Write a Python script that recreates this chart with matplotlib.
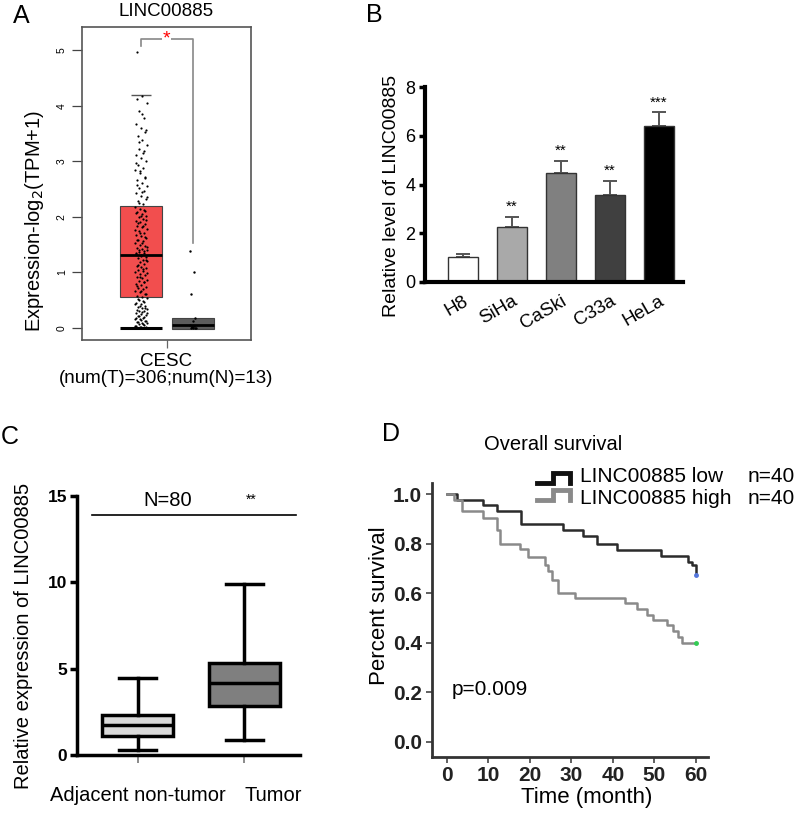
import matplotlib
matplotlib.use('Agg')
import matplotlib.pyplot as plt
from matplotlib.lines import Line2D
import numpy as np

plt.rcParams['font.family'] = ['Liberation Sans', 'DejaVu Sans']

W, H = 797, 816
fig = plt.figure(figsize=(W / 100, H / 100), dpi=100)


def add_ax(left, top, right, bottom):
    return fig.add_axes([left / W, 1 - bottom / H, (right - left) / W, (bottom - top) / H])


def ftext(px, py, s, **kw):
    fig.text(px / W, 1 - py / H, s, **kw)


# ---------------- data ----------------
# Panel A
a_title = 'LINC00885'
a_category = ['CESC\n(num(T)=306;num(N)=13)']
a_tumor_stats = dict(q1=0.55, med=1.32, q3=2.20, whislo=0.0, whishi=4.20)
a_normal_stats = dict(q1=-0.02, med=0.05, q3=0.18, whislo=0.0, whishi=0.18)
a_tumor_points = [
    0.00, 0.00, 0.00, 0.01, 0.02, 0.03, 0.05, 0.06, 0.08, 0.09, 0.11, 0.13, 0.15, 0.16, 0.18,
    0.21, 0.23, 0.25, 0.27, 0.30, 0.31, 0.33, 0.35, 0.37, 0.40, 0.42, 0.45, 0.47, 0.50, 0.53,
    0.56, 0.58, 0.61, 0.64, 0.66, 0.69, 0.72, 0.74, 0.77, 0.79, 0.82, 0.85, 0.87, 0.90, 0.92,
    0.95, 0.97, 1.00, 1.02, 1.05, 1.07, 1.10, 1.12, 1.15, 1.18, 1.20, 1.23, 1.25, 1.28, 1.31,
    1.33, 1.35, 1.37, 1.40, 1.42, 1.44, 1.47, 1.50, 1.53, 1.56, 1.59, 1.62, 1.65, 1.68, 1.71,
    1.74, 1.78, 1.81, 1.84, 1.87, 1.90, 1.93, 1.96, 1.99, 2.02, 2.05, 2.08, 2.11, 2.14, 2.18,
    2.23, 2.28, 2.32, 2.37, 2.42, 2.47, 2.52, 2.56, 2.61, 2.66, 2.72, 2.79, 2.84, 2.88, 2.94,
    3.00, 3.06, 3.12, 3.18, 3.23, 3.30, 3.38, 3.45, 3.52, 3.60, 3.68, 3.78, 3.90, 4.05, 4.18, 4.97,
    0.00, 0.01, 0.04, 0.07, 0.10, 0.12, 0.14, 0.17, 0.19, 0.22, 0.26, 0.29, 0.32, 0.36, 0.39,
    0.43, 0.48, 0.52, 0.60, 0.67, 0.76, 0.83, 0.91, 0.99, 1.06, 1.14, 1.22, 1.29, 1.34, 1.38,
    1.41, 1.46, 1.52, 1.58, 1.64, 1.70, 1.77, 1.83, 1.89, 1.95, 2.01, 2.07, 2.13, 2.25, 2.35,
    2.45, 2.58, 2.70, 2.82, 2.97, 3.15, 3.35, 3.56, 3.85, 4.12]
a_normal_points = [1.38, 1.01, 0.60, 0.17, 0.13, 0.05, 0.03, 0.02, 0.0, 0.0, 0.0, 0.0, 0.01]
a_sig = '*'

# Panel B
b_cells = ['H8', 'SiHa', 'CaSki', 'C33a', 'HeLa']
b_values = [1.0, 2.25, 4.48, 3.58, 6.42]
b_errors = [0.15, 0.42, 0.50, 0.57, 0.55]
b_sig = ['', '**', '**', '**', '***']
b_colors = ['white', '#A9A9A9', '#808080', '#404040', 'black']

# Panel C
c_groups = ['Adjacent non-tumor', 'Tumor']
c_stats = [dict(whislo=0.27, q1=1.08, med=1.75, q3=2.32, whishi=4.45),
           dict(whislo=0.87, q1=2.83, med=4.15, q3=5.35, whishi=9.87)]
c_colors = ['#DADADA', '#7F7F7F']
c_n_label = 'N=80'
c_sig = '**'

# Panel D
d_low_t = [0, 2.4, 8.8, 12.0, 18.0, 28.0, 32.9, 36.1, 40.9, 51.7, 58.1, 59.0, 60.0]
d_low_s = [1.0, 0.977, 0.957, 0.930, 0.880, 0.856, 0.831, 0.800, 0.775, 0.752, 0.728, 0.715, 0.675]
d_high_t = [0, 1.8, 3.8, 8.8, 12.0, 12.8, 17.6, 19.6, 23.7, 24.5, 25.3, 26.9, 31.0, 43.0,
            45.7, 48.1, 49.7, 53.0, 54.5, 55.7, 56.6, 60.0]
d_high_s = [1.0, 0.975, 0.930, 0.905, 0.856, 0.800, 0.777, 0.745, 0.715, 0.688, 0.655, 0.600,
            0.580, 0.559, 0.537, 0.513, 0.492, 0.470, 0.446, 0.424, 0.400, 0.400]
d_labels = ['LINC00885 low', 'LINC00885 high']
d_counts = ['n=40', 'n=40']
d_p = 'p=0.009'

# ---------------- Panel A ----------------
axA = add_ax(82, 27, 251, 340)
axA.set_xlim(0, 1)
axA.set_ylim(-0.22, 5.42)
pos_t, pos_n, bw = 0.35, 0.657, 0.25
for st, pos, fc in [(a_tumor_stats, pos_t, '#F24E4E'), (a_normal_stats, pos_n, '#5C5C5C')]:
    axA.bxp([st], positions=[pos], widths=bw, patch_artist=True, showfliers=False,
            boxprops=dict(facecolor=fc, edgecolor='#444444', linewidth=0.8),
            medianprops=dict(color='black', linewidth=2.0),
            whiskerprops=dict(linewidth=0), capprops=dict(linewidth=0), manage_ticks=False)
# whisker caps
axA.hlines(a_tumor_stats['whislo'], pos_t - bw / 2, pos_t + bw / 2, color='black', lw=2.2, zorder=4)
axA.hlines(a_tumor_stats['whishi'], pos_t - 0.06, pos_t + 0.06, color='#555555', lw=1.0, zorder=4)
# points
nt = len(a_tumor_points)
jit_t = ((np.arange(nt) * 0.618034) % 1 - 0.5) * 0.075
axA.scatter(pos_t + jit_t, a_tumor_points, s=2.5, color='black', zorder=5, linewidths=0)
nn = len(a_normal_points)
jit_n = ((np.arange(nn) * 0.618034) % 1 - 0.5) * 0.04
axA.scatter(pos_n + jit_n, a_normal_points, s=3, color='black', zorder=5, linewidths=0)
# significance bracket
axA.plot([pos_t, pos_t, pos_n, pos_n], [5.08, 5.21, 5.21, 1.52], color='#888888', lw=1.2, zorder=3)
axA.text(0.5, 5.21, a_sig, color='red', fontsize=14, ha='center', va='center',
         bbox=dict(facecolor='white', edgecolor='none', pad=0.5), zorder=6)
axA.set_yticks([0, 1, 2, 3, 4, 5])
axA.set_yticklabels(['0', '1', '2', '3', '4', '5'], rotation=90, va='center', fontsize=7.5)
axA.set_xticks([0.5])
axA.set_xticklabels(a_category, fontsize=13.5, linespacing=1.05)
axA.tick_params(axis='y', length=7, width=0.9, color='#444444', pad=4)
axA.tick_params(axis='x', length=6, width=0.9, color='#666666', pad=3)
for sp in axA.spines.values():
    sp.set_color('#555555')
    sp.set_linewidth(1.2)
axA.set_ylabel('Expression-log$_2$(TPM+1)', fontsize=14.5)
axA.yaxis.set_label_coords(-0.213, 0.38)
ftext(166, 11, a_title, fontsize=13.5, ha='center', va='center')
ftext(21, 16, 'A', fontsize=18, ha='center', va='center')

# ---------------- Panel B ----------------
axB = add_ax(425, 87.3, 683, 281.7)
xb = np.arange(len(b_cells))
axB.bar(xb, b_values, width=0.61, color=b_colors, edgecolor='#333333', linewidth=1.0, zorder=2)
axB.errorbar(xb, b_values, yerr=[np.zeros(len(b_values)), b_errors], fmt='none',
             ecolor='#555555', elinewidth=1.4, capsize=5, capthick=1.4, zorder=1)
for x, v, e, s in zip(xb, b_values, b_errors, b_sig):
    if s:
        axB.text(x, v + e + 0.12, s, ha='center', va='bottom', fontsize=11)
axB.set_xlim(-0.78, 4.49)
axB.set_ylim(0, 8)
axB.set_yticks([0, 2, 4, 6, 8])
axB.set_yticklabels(['0', '2', '4', '6', '8'], fontsize=13)
axB.set_xticks(xb)
axB.set_xticklabels(b_cells, rotation=30, ha='right', va='top', rotation_mode='anchor', fontsize=13.5)
axB.tick_params(axis='x', length=0, pad=8)
axB.tick_params(axis='y', length=4, width=2.5, pad=3)
for k in ['top', 'right']:
    axB.spines[k].set_visible(False)
for k in ['left', 'bottom']:
    axB.spines[k].set_linewidth(3)
axB.set_ylabel('Relative level of LINC00885', fontsize=14)
axB.yaxis.set_label_coords(-0.095, 0.44)
ftext(374, 15, 'B', fontsize=18, ha='center', va='center')

# ---------------- Panel C ----------------
axC = add_ax(76.7, 495.7, 300, 755)
xc = np.arange(len(c_groups))
res = axC.bxp(c_stats, positions=xc, widths=0.66, patch_artist=True, showfliers=False,
              capwidths=0.34,
              boxprops=dict(edgecolor='black', linewidth=2.5),
              medianprops=dict(color='black', linewidth=2.5),
              whiskerprops=dict(color='black', linewidth=2.5),
              capprops=dict(color='black', linewidth=2.5), manage_ticks=False)
for patch, col in zip(res['boxes'], c_colors):
    patch.set_facecolor(col)
axC.set_xlim(-0.57, 1.52)
axC.set_ylim(0, 15)
axC.plot([-0.43, 1.486], [13.9, 13.9], color='black', lw=1.2, clip_on=False)
axC.text(0.28, 14.75, c_n_label, ha='center', va='center', fontsize=14.5, clip_on=False)
axC.text(1.065, 14.75, c_sig, ha='center', va='center', fontsize=10, clip_on=False)
axC.set_yticks([0, 5, 10, 15])
axC.set_yticklabels(['0', '5', '10', '15'], fontsize=12.5, fontweight='bold')
axC.set_xticks(xc)
axC.set_xticklabels(c_groups, fontsize=14.5)
xl = axC.get_xticklabels()
xl[1].set_horizontalalignment('left')
xl[1].set_x(0.97)
axC.tick_params(axis='y', length=5, width=2.5, pad=2)
axC.tick_params(axis='x', length=6, width=1.2, color='#777777', pad=16)
for k in ['top', 'right']:
    axC.spines[k].set_visible(False)
for k in ['left', 'bottom']:
    axC.spines[k].set_linewidth(2.5)
axC.set_ylabel('Relative expression of LINC00885', fontsize=14.5)
axC.yaxis.set_label_coords(-0.196, 0.46)
ftext(10, 437, 'C', fontsize=18, ha='center', va='center')

# ---------------- Panel D ----------------
axD = add_ax(431.7, 483, 708, 756.7)
axD.step(d_low_t, d_low_s, where='post', color='#2B2B2B', lw=1.8)
axD.step(d_high_t, d_high_s, where='post', color='#8A8A8A', lw=1.8)
axD.plot([d_low_t[-1]], [d_low_s[-1]], 'o', ms=2.5, color='#5577DD')
axD.plot([d_high_t[-1]], [d_high_s[-1]], 'o', ms=2.5, color='#33CC55')
axD.set_xlim(-3.6, 62.9)
axD.set_ylim(-0.06, 1.045)
axD.set_xticks([0, 10, 20, 30, 40, 50, 60])
axD.set_xticklabels(['0', '10', '20', '30', '40', '50', '60'], fontsize=15, fontweight='bold', color='#222222')
axD.set_yticks([0, 0.2, 0.4, 0.6, 0.8, 1.0])
axD.set_yticklabels(['0.0', '0.2', '0.4', '0.6', '0.8', '1.0'], fontsize=15, fontweight='bold', color='#222222')
axD.tick_params(axis='both', length=4, width=1.2, color='#444444', pad=3)
for k in ['top', 'right']:
    axD.spines[k].set_visible(False)
for k in ['left', 'bottom']:
    axD.spines[k].set_linewidth(2)
    axD.spines[k].set_color('#333333')
axD.text(1.3, 0.21, d_p, fontsize=15, va='center', ha='left')
axD.set_xlabel('Time (month)', fontsize=16)
axD.xaxis.set_label_coords(0.56, -0.11)
axD.set_ylabel('Percent survival', fontsize=16)
axD.yaxis.set_label_coords(-0.151, 0.55)
ftext(553, 445, 'Overall survival', fontsize=14.5, ha='center', va='center')
ftext(391, 434, 'D', fontsize=18, ha='center', va='center')

# legend
for i, (lab, cnt, col) in enumerate(zip(d_labels, d_counts, ['#111111', '#8A8A8A'])):
    dy = i * 17
    xs = np.array([536.7, 553.3, 553.3, 570, 570]) / W
    ys = 1 - np.array([482.7, 482.7, 472.7, 472.7, 483.3]) / H - dy / H
    fig.add_artist(Line2D(xs, ys, color=col, lw=3.5, solid_joinstyle='miter'))
    ftext(580, 477 + i * 21, lab, fontsize=15, ha='left', va='center')
    ftext(748, 477 + i * 21, cnt, fontsize=15, ha='left', va='center')

fig.savefig('out.png', dpi=100)
